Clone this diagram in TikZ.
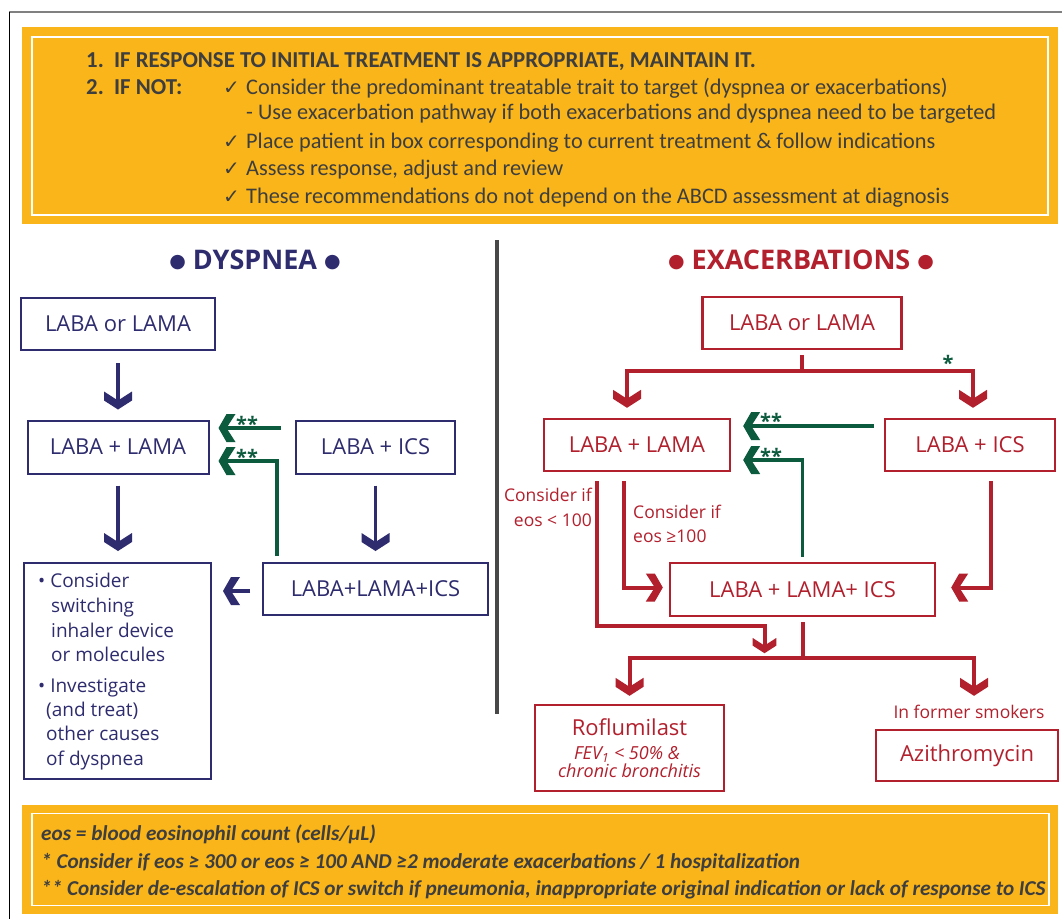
\documentclass[tikz,border=0pt]{standalone}
\usepackage{fontspec}
\setmainfont{Open Sans}
\newfontfamily\calib{Carlito}
\newfontfamily\dejavu{DejaVu Sans}
\usetikzlibrary{calc}
\definecolor{orng}{RGB}{249,181,26}
\definecolor{navy}{RGB}{46,44,110}
\definecolor{rd}{RGB}{178,32,45}
\definecolor{grn}{RGB}{12,91,62}
\definecolor{txtg}{RGB}{62,62,62}
\definecolor{divg}{RGB}{72,72,72}
\tikzset{
  chevD/.pic={\fill[pic actions] (-14,-18) -- (0,-9) -- (14,-18) -- (14,-9) -- (0,0) -- (-14,-9) -- cycle;},
  chevL/.pic={\fill[pic actions] (17,-14) -- (8,0) -- (17,14) -- (8,14) -- (0,0) -- (8,-14) -- cycle;},
  chevR/.pic={\fill[pic actions] (-17,-14) -- (-8,0) -- (-17,14) -- (-8,14) -- (0,0) -- (-8,-14) -- cycle;},
  nbox/.style={draw=navy, line width=2pt, text=navy, inner sep=0pt, font=\fontsize{22}{26}\selectfont},
  rbox/.style={draw=rd, line width=2.4pt, text=rd, inner sep=0pt, font=\fontsize{22}{26}\selectfont},
  nline/.style={draw=navy, line width=3.5pt},
  rline/.style={draw=rd, line width=4pt, line join=miter},
  gline/.style={draw=grn, line width=3.5pt, line join=miter},
  toptxt/.style={anchor=base west, inner sep=0pt, text=txtg, font=\calib\fontsize{22.3}{26}\selectfont},
  topbold/.style={anchor=base west, inner sep=0pt, text=txtg, font=\calib\bfseries\fontsize{22.8}{26}\selectfont},
  chk/.style={anchor=base west, inner sep=0pt, text=txtg, font=\dejavu\fontsize{20}{22}\selectfont},
  bottxt/.style={anchor=base west, inner sep=0pt, text=txtg, font=\calib\bfseries\itshape\fontsize{21.2}{24}\selectfont},
  dtxt/.style={anchor=base west, inner sep=0pt, text=navy, font=\fontsize{19}{23}\selectfont},
  rlab/.style={inner sep=0pt, text=rd, font=\fontsize{17.5}{21}\selectfont},
  ast/.style={anchor=base west, inner sep=0pt, text=grn, font=\bfseries\fontsize{20}{22}\selectfont},
  ttl/.style={anchor=base, inner sep=0pt, font=\bfseries\fontsize{27}{30}\selectfont},
}
\newcommand{\bigdot}{{\dejavu\fontsize{19}{19}\selectfont\raisebox{2pt}{●}}}
\begin{document}
\begin{tikzpicture}[x=1pt,y=-1pt]
\useasboundingbox (0,0) rectangle (1062,919);
\fill[white] (0,0) rectangle (1062,919);
% outer frame
\draw[gray, line width=2pt] (9,12) -- (1062,12);
\draw[black, line width=1.3pt] (9.5,12) -- (9.5,919);
% top box
\fill[orng] (22,27) rectangle (1058,224);
\draw[white, line width=1.6pt] (32,37) rectangle (1048,215);
\node[topbold] (t1) at (86,67) {1.\ \ IF RESPONSE TO INITIAL TREATMENT IS APPROPRIATE, MAINTAIN IT.};
\node[topbold] (t2) at (86,94.5) {2.\ \ IF NOT:};
\node[chk] (c1) at (223,94.5) {✓};
\node[toptxt] (t3) at (246,94.5) {Consider the predominant treatable trait to target (dyspnea or exacerbations)};
\node[toptxt] (t4) at (246,119.5) {- Use exacerbation pathway if both exacerbations and dyspnea need to be targeted};
\node[chk] (c2) at (223,148) {✓};
\node[toptxt] (t5) at (246,148) {Place patient in box corresponding to current treatment \& follow indications};
\node[chk] (c3) at (223,175) {✓};
\node[toptxt] (t6) at (246,175) {Assess response, adjust and review};
\node[chk] (c4) at (223,203) {✓};
\node[toptxt] (t7) at (246,203) {These recommendations do not depend on the ABCD assessment at diagnosis};
% divider
\draw[divg, line width=3.5pt] (497,240) -- (497,714);
% titles
\node[ttl, text=navy] (dt) at (255,269.5) {\bigdot\ DYSPNEA \bigdot};
\node[ttl, text=rd] (et) at (801,269.5) {\bigdot\ EXACERBATIONS \bigdot};
% dyspnea boxes
\node[nbox, minimum width=194pt, minimum height=52pt] (d1) at (118,324) {LABA or LAMA};
\node[nbox, minimum width=181pt, minimum height=53pt] (d2) at (118,447) {LABA + LAMA};
\node[nbox, minimum width=159pt, minimum height=53pt] (d3) at (375.5,447) {LABA + ICS};
\node[nbox, minimum width=225pt, minimum height=52pt] (d5) at (375.5,589) {LABA+LAMA+ICS};
\node[nbox, minimum width=187pt, minimum height=216pt] (d4) at (117.5,671) {};
\node[dtxt] (k1) at (38,587.5) {•\ Consider};
\node[dtxt] (k2) at (51,612.5) {switching};
\node[dtxt] (k3) at (51,637) {inhaler device};
\node[dtxt] (k4) at (51,661.5) {or molecules};
\node[dtxt] (k5) at (38,692.5) {•\ Investigate};
\node[dtxt] (k6) at (46,716.5) {(and treat)};
\node[dtxt] (k7) at (46,740.5) {other causes};
\node[dtxt] (k8) at (46,765) {of dyspnea};
% dyspnea arrows
\draw[nline] ($(d1.south)+(0,12)$) -- ($(d2.north)+(0,-17)$);
\pic[fill=navy] at ($(d2.north)+(0,-10)$) {chevD};
\draw[nline] ($(d2.south)+(0,11)$) -- ($(d2.south |- d4.north)+(0,-18)$);
\pic[fill=navy] at ($(d2.south |- d4.north)+(0,-11)$) {chevD};
\draw[nline] ($(d3.south)+(0,11)$) -- ($(d5.north)+(0,-18)$);
\pic[fill=navy] at ($(d5.north)+(0,-11)$) {chevD};
\draw[nline] ($(d5.west)+(-12,2)$) -- ($(d4.east |- d5.west)+(18,2)$);
\pic[fill=navy] at ($(d4.east |- d5.west)+(11,2)$) {chevL};
% dyspnea green arrows
\draw[gline] ($(d3.west)+(-14,-19)$) -- ($(d2.east)+(16,-19)$);
\pic[fill=grn] at ($(d2.east)+(9,-19)$) {chevL};
\draw[gline] ($(d5.north west)+(15,-6)$) |- ($(d2.east)+(16,14)$);
\pic[fill=grn] at ($(d2.east)+(9,14)$) {chevL};
\node[ast] (a1) at (236,431) {**};
\node[ast] (a2) at (236,464) {**};
% exacerbation boxes
\node[rbox, minimum width=199pt, minimum height=52pt] (e1) at (802,323) {LABA or LAMA};
\node[rbox, minimum width=186pt, minimum height=52pt] (e2) at (637,445) {LABA + LAMA};
\node[rbox, minimum width=170pt, minimum height=52pt] (e3) at (970,445) {LABA + ICS};
\node[rbox, minimum width=265pt, minimum height=53pt] (e4) at (802.5,589.5) {LABA + LAMA+ ICS};
\node[rbox, minimum width=189pt, minimum height=86pt] (e5) at (629.5,748) {};
\node[rbox, minimum width=182pt, minimum height=51pt] (e6) at (967,755.5) {Azithromycin};
\node[anchor=base, inner sep=0pt, text=rd, font=\fontsize{22}{26}\selectfont] (r1) at (629.5,735) {Roflumilast};
\node[anchor=base, inner sep=0pt, text=rd, font=\itshape\fontsize{18}{21}\selectfont] (r2) at (627,759) {FEV\textsubscript{1} < 50\% \&};
\node[anchor=base, inner sep=0pt, text=rd, font=\itshape\fontsize{18}{21}\selectfont] (r3) at (629.5,777.5) {chronic bronchitis};
\node[rlab, anchor=base] (l5) at (969,718) {In former smokers};
\node[rlab, anchor=base east] (l1) at (592,501.5) {Consider if};
\node[rlab, anchor=base east] (l2) at (592,526) {eos < 100};
\node[rlab, anchor=base west] (l3) at (633,518.5) {Consider if};
\node[rlab, anchor=base west] (l4) at (633,542.5) {eos ≥100};
% exacerbation arrows
\coordinate (b1) at ($(e1.south)+(0,21)$);
\draw[rline] ($(e1.south)+(0,5)$) -- (b1);
\draw[rline] ($(e2.north)+(-10,-17)$) |- (b1) -| ($(e3.north)+(3,-17)$);
\pic[fill=rd] at ($(e2.north)+(-10,-10)$) {chevD};
\pic[fill=rd] at ($(e3.north)+(3,-10)$) {chevD};
\node[ast, anchor=base] (a5) at (948,370) {*};
\draw[rline] ($(e2.south)+(-40,9)$) |- ($(e4.south)+(-38,9)$) -- ($(e4.south)+(-38,30)$);
\pic[fill=rd, scale=0.85] at ($(e4.south)+(-38,36)$) {chevD};
\draw[rline] ($(e2.south)+(-13,9)$) |- ($(e4.west)+(-13,-2)$);
\pic[fill=rd] at ($(e4.west)+(-6,-2)$) {chevR};
\draw[rline] ($(e3.south)+(21,9)$) |- ($(e4.east)+(22,-2)$);
\pic[fill=rd] at ($(e4.east)+(15,-2)$) {chevL};
\coordinate (b2) at ($(e4.south)+(0,41)$);
\draw[rline] ($(e4.south)+(0,5)$) -- (b2);
\draw[rline] ($(e5.north)+(0,-15)$) |- (b2) -| ($(e6.north)+(7,-40)$);
\pic[fill=rd] at ($(e5.north)+(0,-8)$) {chevD};
\pic[fill=rd] at ($(e6.north)+(7,-33)$) {chevD};
% exacerbation green arrows
\draw[gline] ($(e3.west)+(-10,-19)$) -- ($(e2.east)+(19,-19)$);
\pic[fill=grn] at ($(e2.east)+(12,-19)$) {chevL};
\draw[gline] ($(e4.north)+(0,-5)$) |- ($(e2.east)+(19,15)$);
\pic[fill=grn] at ($(e2.east)+(12,15)$) {chevL};
\node[ast] (a3) at (760,428) {**};
\node[ast] (a4) at (760,463) {**};
% bottom box
\fill[orng] (22,805) rectangle (1058,914);
\draw[white, line width=1.6pt] (32,813.5) rectangle (1049,905.5);
\node[bottxt] (f1) at (41,840) {eos = blood eosinophil count (cells/µL)};
\node[bottxt] (f2) at (41,868) {* Consider if eos ≥ 300 or eos ≥ 100 AND ≥2 moderate exacerbations / 1 hospitalization};
\node[bottxt] (f3) at (41,895) {** Consider de-escalation of ICS or switch if pneumonia, inappropriate original indication or lack of response to ICS};
\end{tikzpicture}
\end{document}
